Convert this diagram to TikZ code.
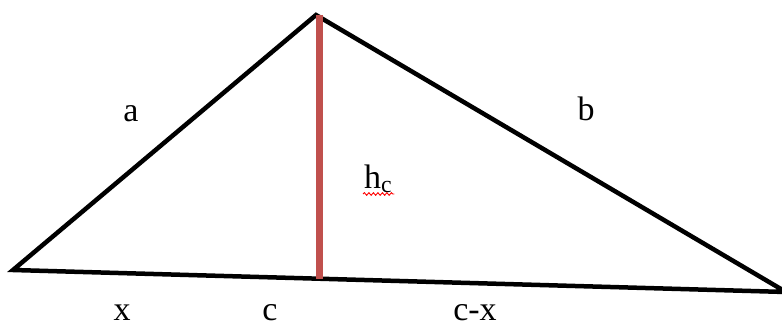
\documentclass[tikz,border=0pt]{standalone}
\usepackage{fontspec}
\setmainfont{Liberation Serif}
\usetikzlibrary{decorations.pathmorphing}
\definecolor{altred}{RGB}{192,80,77}
\begin{document}
\begin{tikzpicture}[x=1pt,y=-1pt,
  side/.style={line width=4.5pt,black,line join=miter},
  alt/.style={line width=7pt,altred},
  lbl/.style={font=\fontsize{34}{38}\selectfont,inner sep=0pt,anchor=base},
  spell/.style={red,line width=0.9pt,decorate,decoration={snake,amplitude=1.3pt,segment length=4.5pt}}]
\useasboundingbox (0,0) rectangle (782,326);
\coordinate (A) at (13,270);
\coordinate (C) at (316,15);
\coordinate (B) at (786,292);
\coordinate (F) at (319,279);
\coordinate (T) at (319,15);
\draw[side] (B) -- (A) -- (C) -- cycle;
\draw[alt] (T) -- (F);
\node[lbl] (la) at (131,122) {a};
\node[lbl] (lb) at (586,121) {b};
\node[lbl,anchor=base west] (lh) at (364,189) {h\textsubscript{c}};
\draw[spell] ([xshift=-1pt,yshift=-5pt]lh.base west) -- ([xshift=2pt,yshift=-5pt]lh.base east);
\node[lbl] (lx) at (122,320) {x};
\node[lbl] (lc) at (270,320) {c};
\node[lbl] (lcx) at (475,320) {c-x};
\end{tikzpicture}
\end{document}
